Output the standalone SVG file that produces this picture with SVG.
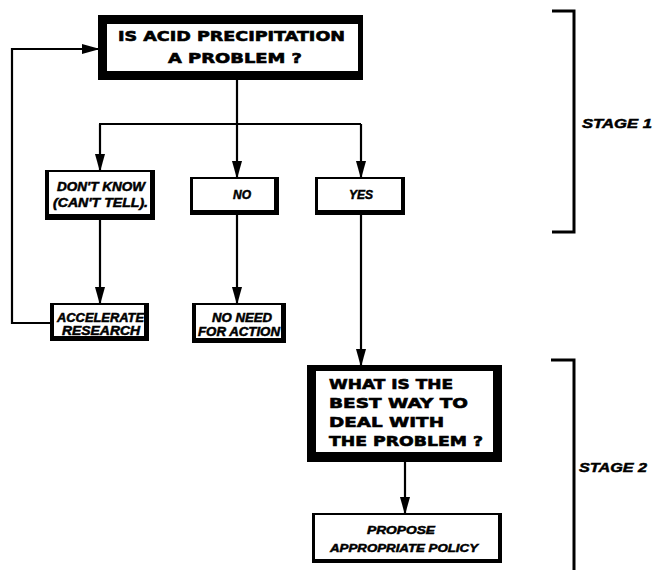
<svg xmlns="http://www.w3.org/2000/svg" width="654" height="570" viewBox="0 0 654 570">
<defs>
<marker id="ah" markerUnits="userSpaceOnUse" markerWidth="18" markerHeight="10" refX="17" refY="5" orient="auto">
<path d="M0,0 L18,5 L0,10 z" fill="#000"/>
</marker>
<style>
.frame{fill:#000}
.in{fill:#fff}
.up{font-family:"DejaVu Sans","Liberation Sans",sans-serif;font-weight:bold;fill:#000;stroke:#000;stroke-width:0.6}
.it{font-family:"Liberation Sans","DejaVu Sans",sans-serif;font-weight:bold;font-style:italic;fill:#000;stroke:#000;stroke-width:0.5}
.ln{fill:none;stroke:#000;stroke-width:2.2}
.br{fill:none;stroke:#000;stroke-width:3}
</style>
</defs>
<rect width="654" height="570" fill="#fff"/>

<g id="connectors">
<path class="ln" d="M237,80 V124"/>
<path class="ln" d="M99,124 H361"/>
<path class="ln" d="M100,124 V171" marker-end="url(#ah)"/>
<path class="ln" d="M237,124 V178" marker-end="url(#ah)"/>
<path class="ln" d="M361,124 V178" marker-end="url(#ah)"/>
<path class="ln" d="M100,219 V304" marker-end="url(#ah)"/>
<path class="ln" d="M237,214 V304" marker-end="url(#ah)"/>
<path class="ln" d="M361,214 V366" marker-end="url(#ah)"/>
<path class="ln" d="M405,462 V514" marker-end="url(#ah)"/>
<path class="ln" d="M51,323 H12 V49 H99" marker-end="url(#ah)"/>
</g>

<g id="q1">
<rect class="frame" x="98" y="15" width="265" height="65"/>
<rect class="in" x="107" y="24" width="251" height="47"/>
<text class="up" x="118" y="41" font-size="14" textLength="227" lengthAdjust="spacingAndGlyphs">IS ACID PRECIPITATION</text>
<text class="up" x="168" y="63" font-size="14" textLength="134" lengthAdjust="spacingAndGlyphs">A PROBLEM ?</text>
</g>

<g id="dontknow">
<rect class="frame" x="45" y="170" width="110" height="50"/>
<rect class="in" x="49" y="172" width="101" height="42"/>
<text class="it" x="57" y="191" font-size="12" textLength="88" lengthAdjust="spacingAndGlyphs">DON'T KNOW</text>
<text class="it" x="53" y="207" font-size="12" textLength="95" lengthAdjust="spacingAndGlyphs">(CAN'T TELL).</text>
</g>

<g id="no">
<rect class="frame" x="190" y="177" width="89" height="38"/>
<rect class="in" x="193" y="179" width="81" height="31"/>
<text class="it" x="242" y="199" font-size="12" text-anchor="middle">NO</text>
</g>

<g id="yes">
<rect class="frame" x="315" y="177" width="90" height="38"/>
<rect class="in" x="318" y="179" width="83" height="31"/>
<text class="it" x="361" y="199" font-size="12" text-anchor="middle">YES</text>
</g>

<g id="accelerate">
<rect class="frame" x="50" y="303" width="99" height="38"/>
<rect class="in" x="54" y="305" width="90" height="31"/>
<text class="it" x="57" y="322" font-size="12" textLength="87" lengthAdjust="spacingAndGlyphs">ACCELERATE</text>
<text class="it" x="62" y="335" font-size="12" textLength="78" lengthAdjust="spacingAndGlyphs">RESEARCH</text>
</g>

<g id="noneed">
<rect class="frame" x="192" y="303" width="94" height="40"/>
<rect class="in" x="196" y="305" width="85" height="33"/>
<text class="it" x="212" y="322" font-size="12" textLength="60" lengthAdjust="spacingAndGlyphs">NO NEED</text>
<text class="it" x="198" y="336" font-size="12" textLength="82" lengthAdjust="spacingAndGlyphs">FOR ACTION</text>
</g>

<g id="q2">
<rect class="frame" x="307" y="365" width="195" height="97"/>
<rect class="in" x="316" y="371" width="177" height="81"/>
<text class="up" x="329" y="389" font-size="14" textLength="124" lengthAdjust="spacingAndGlyphs">WHAT IS THE</text>
<text class="up" x="329" y="408" font-size="14" textLength="139" lengthAdjust="spacingAndGlyphs">BEST WAY TO</text>
<text class="up" x="329" y="427" font-size="14" textLength="115" lengthAdjust="spacingAndGlyphs">DEAL WITH</text>
<text class="up" x="329" y="446" font-size="14" textLength="154" lengthAdjust="spacingAndGlyphs">THE PROBLEM ?</text>
</g>

<g id="propose">
<rect class="frame" x="312" y="513" width="190" height="50"/>
<rect class="in" x="315" y="515" width="183" height="44"/>
<text class="it" x="367" y="534" font-size="11" textLength="68" lengthAdjust="spacingAndGlyphs">PROPOSE</text>
<text class="it" x="330" y="552" font-size="11" textLength="148" lengthAdjust="spacingAndGlyphs">APPROPRIATE POLICY</text>
</g>

<g id="stage1">
<path class="br" d="M552,11 H574 V232 H552"/>
<text class="it" x="582" y="128" font-size="13" textLength="70" lengthAdjust="spacingAndGlyphs">STAGE 1</text>
</g>
<g id="stage2">
<path class="br" d="M551,360 H574 V570"/>
<text class="it" x="579" y="472" font-size="13" textLength="68" lengthAdjust="spacingAndGlyphs">STAGE 2</text>
</g>
</svg>
